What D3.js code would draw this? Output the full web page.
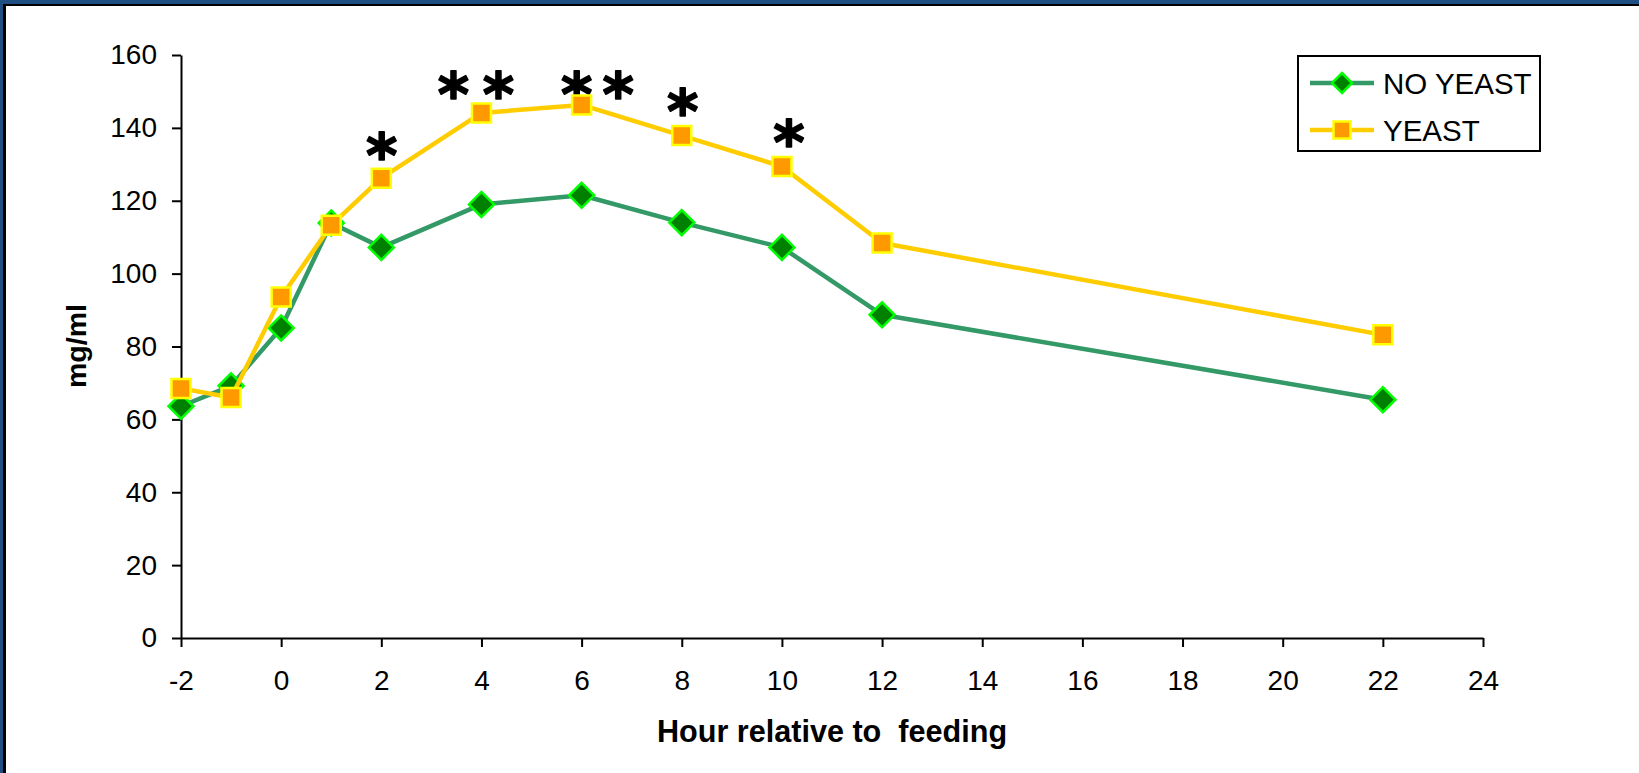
<!DOCTYPE html>
<html>
<head>
<meta charset="utf-8">
<script src="https://cdn.jsdelivr.net/npm/d3@7"></script>
<style>
  html, body { margin: 0; padding: 0; background: #fff; }
  svg { display: block; font-family: "Liberation Sans", Arial, sans-serif; }
</style>
</head>
<body>
<script>
// data
var hours = [-2, -1, 0, 1, 2, 4, 6, 8, 10, 12, 22];
var noYeast = [63.6, 69.2, 85.1, 113.9, 107.2, 119.0, 121.5, 114.0, 107.2, 88.7, 65.4];
var yeast = [68.5, 66.0, 93.6, 113.3, 126.2, 144.1, 146.3, 137.9, 129.4, 108.4, 83.2];
var seriesNames = ["NO YEAST", "YEAST"];
var xTicks = [-2, 0, 2, 4, 6, 8, 10, 12, 14, 16, 18, 20, 22, 24];
var yTicks = [0, 20, 40, 60, 80, 100, 120, 140, 160];
// significance asterisks: hour and mg/ml level of each mark
var sigHour = [2.01, 3.44, 4.34, 5.9, 6.73, 8.02, 10.14];
var sigLevel = [135.3, 152.2, 152.2, 152.2, 152.2, 147.6, 139.1];

var W = 1639, H = 773;
var margin = {top: 55, right: 156, bottom: 135, left: 181},
    width = W - margin.left - margin.right,
    height = H - margin.top - margin.bottom;

var svg = d3.select("body").append("svg")
    .attr("width", W)
    .attr("height", H);

// slide frame (top and left edges only)
svg.append("rect").attr("x", 0).attr("y", 0).attr("width", W).attr("height", 4).attr("fill", "#1f4e82");
svg.append("rect").attr("x", 0).attr("y", 4).attr("width", W).attr("height", 2).attr("fill", "#000");
svg.append("rect").attr("x", 0).attr("y", 0).attr("width", 3).attr("height", H).attr("fill", "#1f4e82");
svg.append("rect").attr("x", 3).attr("y", 4).attr("width", 3).attr("height", H).attr("fill", "#000");

var g = svg.append("g")
    .attr("transform", "translate(" + margin.left + "," + margin.top + ")");

var x = d3.scaleLinear().domain([-2, 24]).range([0, width]);
var y = d3.scaleLinear().domain([0, 160]).range([height, 0]);

// axes (plain hyphen for negatives, like the original)
var xAxis = g.append("g")
    .attr("transform", "translate(0," + height + ")")
    .call(d3.axisBottom(x).tickValues(xTicks).tickFormat(function(d) { return String(d); })
      .tickSize(9).tickPadding(23).tickSizeOuter(0));
var yAxis = g.append("g")
    .call(d3.axisLeft(y).tickValues(yTicks).tickFormat(function(d) { return String(d); })
      .tickSize(9).tickPadding(15).tickSizeOuter(0));

[xAxis, yAxis].forEach(function(a) {
  a.select(".domain").attr("stroke", "#000").attr("stroke-width", 2);
  a.selectAll(".tick line").attr("stroke", "#000").attr("stroke-width", 2);
  a.selectAll(".tick text")
    .attr("fill", "#000")
    .style("font-size", "28px")
    .style("font-family", "'Liberation Sans', Arial, sans-serif");
});

// axis titles
g.append("text")
    .attr("x", x(-2) + (x(24) - x(-2)) / 2)
    .attr("y", 742 - margin.top)
    .attr("text-anchor", "middle")
    .style("font-size", "30.6px")
    .style("font-weight", "bold")
    .style("white-space", "pre")
    .text("Hour relative to  feeding");

g.append("text")
    .attr("transform", "rotate(-90)")
    .attr("x", -(346 - margin.top))
    .attr("y", 86 - margin.left)
    .attr("text-anchor", "middle")
    .style("font-size", "28.5px")
    .style("font-weight", "bold")
    .text("mg/ml");

// significance asterisks (under the series, the markers sit on top)
sigHour.forEach(function(h, i) {
  g.append("text")
      .attr("x", x(h))
      .attr("y", y(sigLevel[i]))
      .attr("dy", "0.54em")
      .attr("text-anchor", "middle")
      .attr("stroke", "#000")
      .attr("stroke-width", 1.6)
      .attr("stroke-linejoin", "round")
      .style("font-family", "'DejaVu Sans', sans-serif")
      .style("font-size", "60px")
      .style("font-weight", "bold")
      .text("*");
});

// marker shapes
function diamondPath(r) {
  return "M0," + (-r) + "L" + r + ",0L0," + r + "L" + (-r) + ",0Z";
}
function squarePath(s) {
  return "M" + (-s) + "," + (-s) + "H" + s + "V" + s + "H" + (-s) + "Z";
}

var series = [
  {name: seriesNames[0], values: noYeast, line: "#339966", fill: "#008000", edge: "#00ff00", shape: diamondPath(12.5), legendShape: diamondPath(10)},
  {name: seriesNames[1], values: yeast, line: "#ffcc00", fill: "#ff9900", edge: "#ffff00", shape: squarePath(9.5), legendShape: squarePath(8.5)}
];

var line = d3.line()
    .x(function(d) { return x(d.hour); })
    .y(function(d) { return y(d.value); });

series.forEach(function(s) {
  var pts = hours.map(function(h, i) { return {hour: h, value: s.values[i]}; });
  var sg = g.append("g");
  sg.append("path")
      .datum(pts)
      .attr("fill", "none")
      .attr("stroke", s.line)
      .attr("stroke-width", 4.5)
      .attr("stroke-linejoin", "round")
      .attr("d", line);
  sg.selectAll(".mark")
      .data(pts)
    .enter().append("path")
      .attr("class", "mark")
      .attr("transform", function(d) { return "translate(" + x(d.hour) + "," + y(d.value) + ")"; })
      .attr("d", s.shape)
      .attr("fill", s.fill)
      .attr("stroke", s.edge)
      .attr("stroke-width", 2.5);
});

// legend
var legend = svg.append("g");
legend.append("rect")
    .attr("x", 1298).attr("y", 56)
    .attr("width", 242).attr("height", 95)
    .attr("fill", "#fff")
    .attr("stroke", "#000")
    .attr("stroke-width", 2);

series.forEach(function(s, i) {
  var ly = 83 + i * 47;
  legend.append("line")
      .attr("x1", 1310).attr("x2", 1374)
      .attr("y1", ly).attr("y2", ly)
      .attr("stroke", s.line)
      .attr("stroke-width", 4.5);
  legend.append("path")
      .attr("transform", "translate(1342," + ly + ")")
      .attr("d", s.legendShape)
      .attr("fill", s.fill)
      .attr("stroke", s.edge)
      .attr("stroke-width", 2.5);
  legend.append("text")
      .attr("x", 1383)
      .attr("y", ly + 11)
      .style("font-size", "29.5px")
      .text(s.name);
});
</script>
</body>
</html>
